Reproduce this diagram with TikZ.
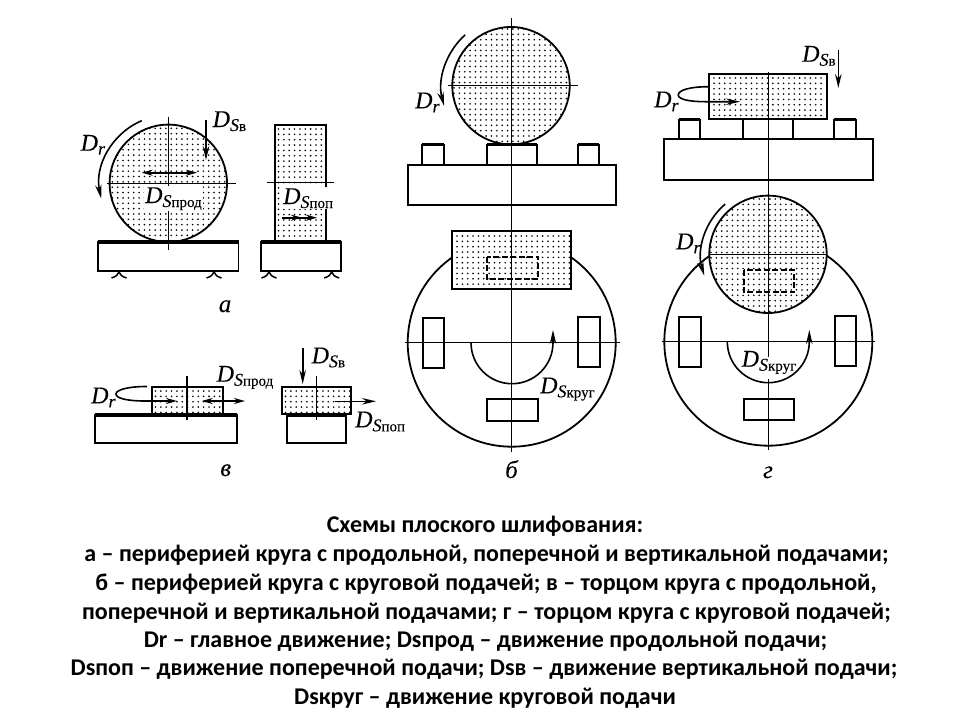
\documentclass[tikz,border=0pt]{standalone}
\usepackage{fontspec}
\setmainfont{Liberation Serif}
\newfontfamily\lblfont[FakeBold=0.08]{Liberation Serif}
\newfontfamily\capfont{Carlito}
\usetikzlibrary{arrows.meta}
\newcommand\DDr{{\lblfont\fontsize{24}{24}\selectfont\textit{D}\raisebox{-4pt}{\fontsize{18}{18}\selectfont\textit{r}}}}
\newcommand\DSs[1]{{\lblfont\fontsize{24}{24}\selectfont\textit{D}\raisebox{-4pt}{{\fontsize{18}{18}\selectfont\textit{S}}{\fontsize{15}{15}\selectfont #1}}}}
\newcommand\dotgrid[4]{%
  \pgfmathtruncatemacro\ncols{(#3-#1)/5.35}%
  \pgfmathtruncatemacro\nrows{(#4-#2)/5.35}%
  \fill[black] foreach \i in {0,...,\ncols}{foreach \j in {0,...,\nrows}{({#1+\i*5.35},{#2+\j*5.35}) circle[radius=0.9]}};}
\tikzset{
  x=1pt,y=-1pt,
  part/.style={draw=black,line width=1.8pt,fill=white},
  outline/.style={draw=black,line width=1.8pt},
  thick top/.style={line width=3.2pt},
  axis/.style={line width=1.3pt},
  motion/.style={line width=1.6pt,-{Stealth[length=14pt,width=6.5pt]}},
  smallhead/.style={line width=1.6pt,-{Stealth[length=11pt,width=6pt]}},
  twohead/.style={line width=1.6pt,{Stealth[length=11pt,width=6pt]}-{Stealth[length=11pt,width=6pt]}},
  hidden edge/.style={line width=1.7pt,dash pattern=on 6pt off 2.5pt},
  lbl/.style={anchor=base west,inner sep=0pt,text=black},
  lblbg/.style={lbl,fill=white,inner sep=1pt},
  figlbl/.style={anchor=base,inner sep=0pt,font=\lblfont\fontsize{25}{25}\selectfont\itshape},
  capline/.style={anchor=base,inner sep=0pt,font=\capfont\bfseries\fontsize{24}{24}\selectfont}
}
\begin{document}
\begin{tikzpicture}
\useasboundingbox[fill=white] (0,0) rectangle (960,720);
% ---- Fig a, left
\draw[part] (98,242) rectangle (238.5,271);
\draw[thick top] (98,242) -- (238.5,242);
\foreach \sx in {119,214,269,331.7}{\draw[line width=1.5pt] (\sx-7.5,278) .. controls (\sx-3,276.5) and (\sx-1,275) .. (\sx,272) .. controls (\sx+1,275) and (\sx+3,276.5) .. (\sx+7.5,278);}
\coordinate (ca) at (168.3,183.3);
\begin{scope}\clip (ca) circle[radius=58.7]; \dotgrid{107}{123}{230}{243}\end{scope}
\draw[outline] (ca) circle[radius=58.7];
\draw[axis] (168.3,117) -- (168.3,250);
\draw[axis] (106.7,183.3) -- (235.7,183.3);
\draw[motion] (ca) ++(113:68pt) arc[start angle=113,end angle=192,radius=69pt];
\draw[motion] (206,120) -- (206,160);
\draw[twohead] (141.7,172.7) -- (197,172.7);
\node[lbl] (aDr) at (80.5,150.7) {\DDr};
\node[lbl] (aDv) at (212.5,127) {\DSs{в}};
\node[lblbg] (aDp) at (144,203) {\DSs{прод}};
% ---- Fig a, right
\draw[part] (260.7,242) rectangle (340.7,271);
\draw[thick top] (260.7,242) -- (340.7,242);
\begin{scope}\clip (275,125) rectangle (326,242); \dotgrid{278.5}{129}{326}{242}\end{scope}
\draw[outline] (275,242) -- (275,124.7) -- (326,124.7) -- (326,242);
\draw[axis] (267,182.7) -- (334,182.7);
\node[lblbg] (aDq) at (282,204) {\DSs{поп}};
\draw[smallhead] (281.7,217.7) -- (302,217.7);
\draw[smallhead] (295,217.7) -- (317,217.7);
\node[figlbl] (la) at (225,312) {а};
% ---- Fig v, left
\draw[part] (95.3,415) rectangle (236.7,443.3);
\draw[thick top] (95.3,415) -- (236.7,415);
\begin{scope}\clip (152.3,387) rectangle (222.7,414); \dotgrid{155.5}{391}{222}{414}\end{scope}
\draw[outline] (152.3,414) -- (152.3,387) -- (222.7,387) -- (222.7,414);
\draw[axis] (187,376) -- (187,413);
\draw[axis] (187,417) -- (187,420);
\draw[smallhead] (147,386.5) .. controls (127,386.5) and (116,390) .. (116,394) .. controls (116,398.5) and (128,401) .. (145,401) -- (177,401);
\draw[twohead] (201.7,401) -- (245,401);
\node[lbl] (vDr) at (91,403.3) {\DDr};
\node[lbl] (vDp) at (216.5,381.7) {\DSs{прод}};
% ---- Fig v, right
\draw[part] (287.3,416) rectangle (345.7,443.3);
\begin{scope}\clip (282,386.7) rectangle (350.7,414); \dotgrid{285.5}{391}{350}{414}\end{scope}
\draw[line width=2.2pt] (282,386.7) rectangle (350.7,414);
\draw[axis] (316.3,376) -- (316.3,413);
\draw[axis] (316.3,417) -- (316.3,420);
\draw[motion] (302.7,348.3) -- (302.7,384);
\draw[motion] (335,401.3) -- (376,401.3);
\node[lbl] (vDv) at (311.5,363.3) {\DSs{в}};
\node[lbl] (vDq) at (355,427.3) {\DSs{поп}};
\node[figlbl] (lv) at (225.7,476) {в};
% ---- Fig b, top
\draw[part] (407.7,165) rectangle (616,205.3);
\foreach \bx/\bw in {422.3/21.7,486.7/50.3,578/21.3}{
  \draw[part] (\bx,144.5) rectangle (\bx+\bw,165);
  \draw[thick top] (\bx,144.5) -- (\bx+\bw,144.5);
}
\coordinate (cb) at (511,85.7);
\begin{scope}\clip (cb) circle[radius=58.7]; \dotgrid{454}{29}{570}{146}\end{scope}
\draw[outline] (cb) circle[radius=58.7];
\draw[axis] (447.7,85.7) -- (577.7,85.7);
\draw[motion] (cb) ++(132:68.5pt) arc[start angle=132,end angle=195,radius=71pt];
\node[lbl] (bDr) at (415,108.3) {\DDr};
% ---- Fig b, bottom
\draw[part] (511.7,342.7) circle[radius=104];
\draw[axis] (405,342.7) -- (620,342.7);
\foreach \bx/\by/\bw/\bh in {422.7/317.7/21.6/50,578.3/317/22/50,487.3/399.3/50.7/21.7}{
  \draw[outline] (\bx,\by) rectangle (\bx+\bw,\by+\bh);
}
\draw[part] (452.3,231) rectangle (571,289);
\begin{scope}\clip (452.3,231) rectangle (571,289); \dotgrid{457}{236}{571}{289}\end{scope}
\draw[outline] (452.3,231) rectangle (571,289);
\draw[hidden edge] (486.7,256.7) rectangle (538.3,279.3);
\draw[axis] (511.5,18) -- (511.5,452);
\draw[motion] (471,342.7) arc[start angle=180,end angle=360,radius=41pt] -- (553,330);
\node[lbl] (bDk) at (540,393.3) {\DSs{круг}};
\node[figlbl] (lb) at (511.5,478) {б};
% ---- Fig g, top
\draw[part] (664,139) rectangle (872.7,180.3);
\foreach \bx/\bw in {678.7/21.6,743.3/49.4,834/21.7}{
  \draw[part] (\bx,119.5) rectangle (\bx+\bw,139);
}
\draw[thick top] (678.7,119.5) -- (700.3,119.5);
\draw[thick top] (834,119.5) -- (855.7,119.5);
\draw[part] (709.3,73.7) rectangle (826.7,119);
\begin{scope}\clip (709.3,73.7) rectangle (826.7,119); \dotgrid{714}{78}{826}{119}\end{scope}
\draw[outline] (709.3,73.7) rectangle (826.7,119);
\draw[motion] (709,86.7) .. controls (690,86.7) and (678.3,90) .. (678.3,95) .. controls (678.3,99.5) and (690,101.7) .. (705,101.7) -- (740,101.7);
\draw[motion] (838.3,50) -- (838.3,88);
\node[lbl] (gDr) at (654,107.3) {\DDr};
\node[lbl] (gDv) at (802,61.7) {\DSs{в}};
% ---- Fig g, bottom
\draw[part] (768.3,341.7) circle[radius=104];
\draw[axis] (661.7,341.7) -- (875,341.7);
\foreach \bx/\by/\bw/\bh in {679.3/317/21.7/49.7,835/316.3/21.3/49.7,744/398.7/50/21.3}{
  \draw[outline] (\bx,\by) rectangle (\bx+\bw,\by+\bh);
}
\coordinate (cg) at (768,254.3);
\fill[white] (cg) circle[radius=58.7];
\begin{scope}\clip (cg) circle[radius=58.7]; \dotgrid{711}{199}{826}{313}\end{scope}
\draw[outline] (cg) circle[radius=58.7];
\draw[axis] (709.5,254.3) -- (826.5,254.3);
\draw[hidden edge] (744,270) rectangle (794,292.3);
\draw[axis] (768.3,71.7) -- (768.3,357);
\draw[axis] (768.3,379) -- (768.3,450);
\draw[motion] (cg) ++(130.5:66pt) arc[start angle=130.5,end angle=197,radius=68pt];
\draw[motion] (727.3,341.7) arc[start angle=180,end angle=360,radius=41pt] -- (809.3,330);
\node[lbl] (gDrr) at (676,249.3) {\DDr};
\node[lbl] (gDk) at (741.5,366.7) {\DSs{круг}};
\node[figlbl] (lg) at (768,478) {г};
% ---- Caption
\node[capline] (c1) at (485,532) {Схемы плоского шлифования:};
\node[capline] (c2) at (486.5,561) {а – периферией круга с продольной, поперечной и вертикальной подачами;};
\node[capline] (c3) at (486,590) {б – периферией круга с круговой подачей; в – торцом круга с продольной,};
\node[capline] (c4) at (486.5,619) {поперечной и вертикальной подачами; г – торцом круга с круговой подачей;};
\node[capline] (c5) at (485.5,647) {Dr – главное движение; Dsпрод – движение продольной подачи;};
\node[capline] (c6) at (484,675) {Dsпоп – движение поперечной подачи; Dsв – движение вертикальной подачи;};
\node[capline] (c7) at (485,704) {Dsкруг – движение круговой подачи};
\end{tikzpicture}
\end{document}
